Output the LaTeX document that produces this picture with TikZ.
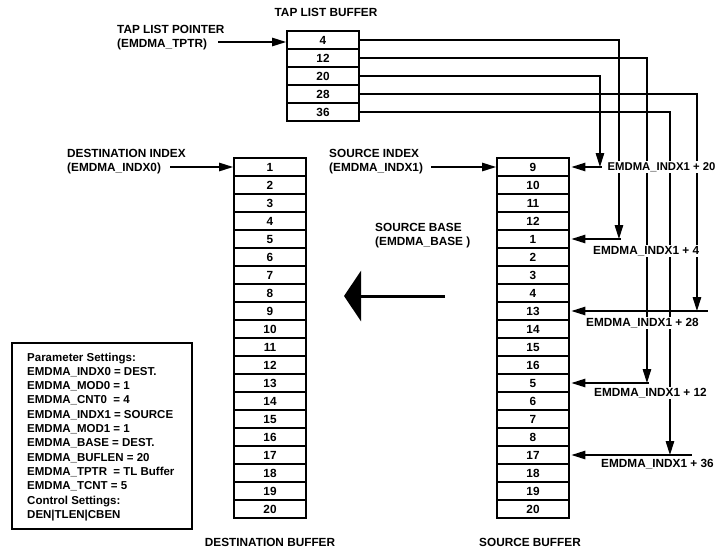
\documentclass[tikz,border=0pt]{standalone}
\usepackage{fontspec}
\setmainfont{Liberation Sans}
\usetikzlibrary{arrows.meta,calc}
\begin{document}
\begin{tikzpicture}[x=1pt,y=-1pt,
  every node/.style={font=\fontsize{11.8}{13.5}\selectfont\bfseries},
  cell/.style={draw, line width=1.9pt, minimum width=72pt, minimum height=18pt, inner sep=0pt},
  lbl/.style={align=left, inner sep=0pt, anchor=north west},
  conn/.style={line width=1.3pt},
  arr/.style={line width=1.3pt, -{Triangle[length=14pt,width=8.5pt]}},
  harr/.style={arr, shorten >=1.5pt},
  tag/.style={fill=white, inner sep=1.5pt, anchor=west}
]
\useasboundingbox (0,0) rectangle (719,552);
\clip (0,0) rectangle (719,552);

% buffers
\foreach \v [count=\i] in {4,12,20,28,36}
  \node[cell] (t\i) at (323,{40+18*(\i-1)}) {\v};
\foreach \i in {1,...,20}
  \node[cell] (d\i) at (270,{167+18*(\i-1)}) {\i};
\foreach \v [count=\i] in {9,10,11,12,1,2,3,4,13,14,15,16,5,6,7,8,17,18,19,20}
  \node[cell] (s\i) at (533,{167+18*(\i-1)}) {\v};

% titles
\node (tlbt) at (326,12) {TAP LIST BUFFER};
\node (dbt) at (270,542) {DESTINATION BUFFER};
\node (sbt) at (530,542) {SOURCE BUFFER};

% pointer labels
\node[lbl] (tpl) at (117,25.5) {TAP LIST POINTER\\(EMDMA\_TPTR)};
\coordinate (tpa) at (218,42);
\draw[arr] (tpa) -- (tpa -| t1.west);

\node[lbl] (dil) at (67,149.5) {DESTINATION INDEX\\(EMDMA\_INDX0)};
\coordinate (dia) at (170,167);
\draw[arr] (dia) -- (d1.west);

\node[lbl] (sil) at (329,149.5) {SOURCE INDEX\\(EMDMA\_INDX1)};
\coordinate (sia) at (431,167);
\draw[arr] (sia) -- (s1.west);

\node[lbl] (sbl) at (375,223.5) {SOURCE BASE\\(EMDMA\_BASE )};

% big arrow
\coordinate (ba1) at (445,296);
\coordinate (ba2) at (344,296);
\draw[line width=3pt, -{Triangle[length=17pt,width=50pt]}] (ba1) -- (ba2);

% tap connectors
\path (s5.east)  ++(49,0)  coordinate (v1) ++(2,0)  coordinate (h1);
\path (s13.east) ++(77,0)  coordinate (v2) ++(2,0)  coordinate (h2);
\path (s1.east)  ++(30,0)  coordinate (v3) ++(2,0)  coordinate (h3);
\path (s9.east)  ++(127,0) coordinate (v4) ++(11,0) coordinate (h4);
\path (s17.east) ++(100,0) coordinate (v5) ++(22,0) coordinate (h5);

\draw[arr] (t1.east) -| (v1);
\draw[harr] (h1) -- (s5.east);
\draw[arr] (t2.east) -| (v2);
\draw[harr] (h2) -- (s13.east);
\draw[arr] (t3.east) -| (v3);
\draw[harr] (h3) -- (s1.east);
\draw[arr] (t4.east) -| (v4);
\draw[harr] (h4) -- (s9.east);
\draw[arr] (t5.east) -| (v5);
\draw[harr] (h5) -- (s17.east);

% offset tags
\node[tag, font=\fontsize{11.3}{13.5}\selectfont\bfseries] (g20) at (606,167) {EMDMA\_INDX1 + 20};
\node[tag] (g4)  at (591.5,251) {EMDMA\_INDX1 + 4};
\node[tag] (g28) at (584.5,323) {EMDMA\_INDX1 + 28};
\node[tag] (g12) at (592.5,393) {EMDMA\_INDX1 + 12};
\node[tag] (g36) at (599.5,464) {EMDMA\_INDX1 + 36};

% parameter box
\node[draw, line width=1.5pt, anchor=north west, minimum width=180pt, minimum height=186pt, inner sep=0pt] (pbox) at (11,342) {};
\node[lbl, font=\fontsize{11.5}{14.3}\selectfont\bfseries] (ptext) at (27,352.5) {Parameter Settings:\\
EMDMA\_INDX0 = DEST.\\
EMDMA\_MOD0 = 1\\
EMDMA\_CNT0\ \ = 4\\
EMDMA\_INDX1 = SOURCE\\
EMDMA\_MOD1 = 1\\
EMDMA\_BASE = DEST.\\
EMDMA\_BUFLEN = 20\\
EMDMA\_TPTR\ \ = TL Buffer\\
EMDMA\_TCNT = 5\\
Control Settings:\\
DEN|TLEN|CBEN};
\end{tikzpicture}
\end{document}
